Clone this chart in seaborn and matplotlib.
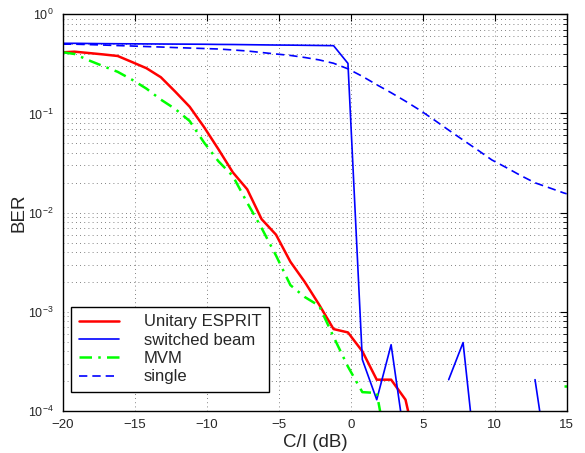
import numpy as np
import pandas as pd
import matplotlib
matplotlib.use("Agg")
import matplotlib.pyplot as plt
import seaborn as sns
from matplotlib.lines import Line2D
from matplotlib.ticker import LogLocator, NullFormatter, FixedLocator

nan = np.nan

ci_db = [-20, -19.2, -18.2, -17.2, -16.2, -15.2, -14.2, -13.2, -12.2, -11.2,
         -10.2, -9.2, -8.2, -7.2, -6.2, -5.2, -4.2, -3.2, -2.2, -1.2,
         -0.2, 0.8, 1.8, 2.8, 3.8, 4.8, 5.8, 6.8, 7.8, 8.8,
         9.8, 10.8, 11.8, 12.8, 13.8, 14.8, 15.0]

ber_esprit = [0.414, 0.420, 0.407, 0.394, 0.380, 0.330, 0.286, 0.232, 0.166, 0.117,
              0.073, 0.0436, 0.0255, 0.0172, 0.0086, 0.0060, 0.0032, 0.0020, 0.00118, 0.00067,
              0.00062, 0.00040, 0.000207, 0.000207, 0.00013, 3e-5, nan, nan, nan, nan,
              nan, nan, nan, nan, nan, nan, nan]

ber_switched = [0.51, 0.51, 0.508, 0.506, 0.505, 0.504, 0.503, 0.502, 0.501, 0.500,
                0.499, 0.497, 0.496, 0.494, 0.492, 0.490, 0.489, 0.487, 0.485, 0.483,
                0.32, 3.3e-4, 1.3e-4, 4.66e-4, 4.5e-5, nan, nan, 2.07e-4, 4.9e-4, 2.2e-5,
                nan, nan, nan, 2.07e-4, 2.2e-5, nan, nan]

ber_mvm = [0.414, 0.398, 0.343, 0.300, 0.263, 0.219, 0.178, 0.138, 0.111, 0.084,
           0.051, 0.033, 0.0234, 0.0126, 0.0070, 0.0037, 0.00186, 0.00141, 0.00115, 0.00056,
           0.00028, 0.000155, 0.000152, 2.5e-5, nan, nan, nan, nan, nan, nan,
           nan, nan, nan, nan, nan, 0.00018, 0.00018]

ber_single = [0.50, 0.50, 0.495, 0.49, 0.484, 0.479, 0.473, 0.468, 0.462, 0.457,
              0.452, 0.447, 0.437, 0.427, 0.412, 0.398, 0.385, 0.367, 0.347, 0.321,
              0.282, 0.237, 0.195, 0.162, 0.133, 0.108, 0.086, 0.068, 0.054, 0.043,
              0.034, 0.0285, 0.0237, 0.020, 0.0178, 0.0158, 0.0155]

series_names = ["Unitary ESPRIT", "switched beam", "MVM", "single"]
series_vals = [ber_esprit, ber_switched, ber_mvm, ber_single]

rows = []
for name, vals in zip(series_names, series_vals):
    seg = 0
    prev_nan = True
    for x, v in zip(ci_db, vals):
        if np.isnan(v):
            prev_nan = True
            continue
        if prev_nan:
            seg += 1
        prev_nan = False
        rows.append({"ci": x, "ber": v, "series": name, "seg": seg})
df = pd.DataFrame(rows)

styles = {
    "Unitary ESPRIT": dict(color=(1, 0, 0), lw=1.8, ls="-"),
    "switched beam": dict(color=(0, 0, 1), lw=1.2, ls="-"),
    "MVM": dict(color=(0, 1, 0), lw=1.8, ls=(0, (5, 2.5, 1, 2.5))),
    "single": dict(color=(0, 0, 1), lw=1.2, ls=(0, (5, 3))),
}

sns.set_style("white")
plt.rcParams["font.family"] = ["Liberation Sans", "DejaVu Sans"]
plt.rcParams["mathtext.fontset"] = "custom"
plt.rcParams["mathtext.rm"] = "Liberation Sans"
plt.rcParams["mathtext.it"] = "Liberation Sans:italic"
plt.rcParams["axes.unicode_minus"] = True

fig = plt.figure(figsize=(5.85, 4.53), dpi=100)
ax = fig.add_axes([0.1077, 0.0927, 0.8610, 0.8757])
ax.set_yscale("log")

for name in series_names:
    st = styles[name]
    sub = df[df["series"] == name]
    sns.lineplot(data=sub, x="ci", y="ber", units="seg", estimator=None,
                 color=st["color"], linewidth=st["lw"], linestyle=st["ls"],
                 legend=False, ax=ax, sort=True)

ax.set_xlim(-20, 15)
ax.set_ylim(1e-4, 1)
ax.xaxis.set_major_locator(FixedLocator([-20, -15, -10, -5, 0, 5, 10, 15]))
ax.yaxis.set_major_locator(LogLocator(base=10, numticks=10))
ax.yaxis.set_minor_locator(LogLocator(base=10, subs=np.arange(2, 10), numticks=20))
ax.yaxis.set_minor_formatter(NullFormatter())

gkw = dict(color="0.35", linestyle=(0, (1, 4)), linewidth=0.6)
ax.grid(True, which="major", axis="x", **gkw)
ax.grid(True, which="both", axis="y", **gkw)

ax.tick_params(which="both", direction="in", top=True, right=True,
               color="black")
ax.tick_params(axis="x", labelsize=9.5)
ax.tick_params(axis="y", labelsize=9)
ax.tick_params(which="major", length=5, width=0.8)
ax.tick_params(which="minor", length=3, width=0.6)
ax.tick_params(axis="y", which="major", pad=7)
ax.tick_params(axis="x", which="major", pad=6)
for sp in ax.spines.values():
    sp.set_visible(True)
    sp.set_color("black")
    sp.set_linewidth(1.0)

ax.set_xlabel("C/I (dB)", fontsize=13.5, labelpad=2)
ax.set_ylabel("BER", fontsize=13.5)
ax.yaxis.set_label_coords(-0.07, 0.5)

handles = [Line2D([], [], color=styles[n]["color"], lw=styles[n]["lw"],
                  linestyle=styles[n]["ls"]) for n in series_names]
leg = ax.legend(handles, series_names, loc="lower left",
                bbox_to_anchor=(0.0159, 0.048), borderaxespad=0,
                fontsize=12, frameon=True, fancybox=False, framealpha=1,
                edgecolor="black", handlelength=2.4, handletextpad=1.5,
                labelspacing=0.2, borderpad=0.45)
leg.get_frame().set_linewidth(1.0)

fig.savefig("out.png", dpi=100)
